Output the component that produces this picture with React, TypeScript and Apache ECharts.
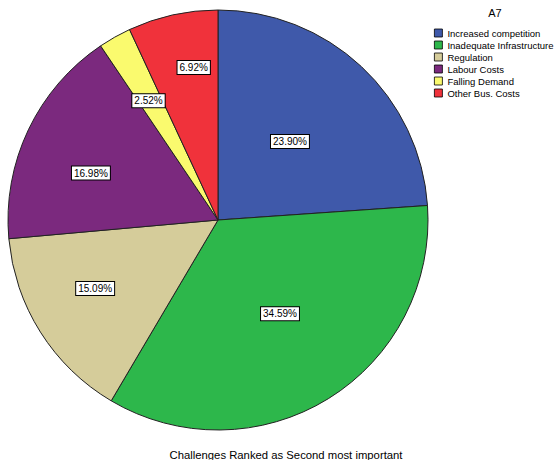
import React, { useEffect, useRef } from "react";
import * as echarts from "echarts";

const categories = [
  "Increased competition",
  "Inadequate Infrastructure",
  "Regulation",
  "Labour Costs",
  "Falling Demand",
  "Other Bus. Costs",
];
const values = [23.9, 34.59, 15.09, 16.98, 2.52, 6.92];
const colors = ["#3f59aa", "#2db74b", "#d5cc9a", "#7b297e", "#fafa6e", "#f0323b"];
const legendTitle = "A7";
const chartTitle = "Challenges Ranked as Second most important";

// label placement (layout only): distance from centre as fraction of radius,
// and angular offset in degrees from the slice's mid-angle
const labelRadiusFrac = [0.507, 0.535, 0.67, 0.645, 0.657, 0.735];
const labelAngleOffset = [-0.5, -1.8, 3.1, -5.2, -0.8, 3.4];

const CX = 218;
const CY = 220;
const R = 210;

export default function App() {
  const ref = useRef<HTMLDivElement>(null);
  useEffect(() => {
    document.body.style.margin = "0";
    const chart = echarts.init(ref.current!, null, { renderer: "svg" });
    const total = values.reduce((a, b) => a + b, 0);
    const mids: number[] = [];
    let acc = 0;
    values.forEach((v) => {
      mids.push(((acc + v / 2) / total) * Math.PI * 2);
      acc += v;
    });
    const font = "Liberation Sans, Arial";
    chart.setOption({
      animation: false,
      backgroundColor: "#ffffff",
      title: [
        {
          text: chartTitle,
          left: 281,
          top: 444,
          textAlign: "center",
          textStyle: { fontFamily: font, fontSize: 11.3, fontWeight: "normal", color: "#000" },
        },
        {
          text: legendTitle,
          left: 490,
          top: 2,
          textAlign: "center",
          textStyle: { fontFamily: font, fontSize: 11, fontWeight: "normal", color: "#000" },
        },
      ],
      legend: {
        orient: "vertical",
        left: 429,
        top: 23,
        itemWidth: 8,
        itemHeight: 8,
        itemGap: 2,
        icon: "rect",
        selectedMode: false,
        data: categories,
        itemStyle: { borderColor: "#000", borderWidth: 0.8 },
        textStyle: { fontFamily: font, fontSize: 9.5, color: "#000" },
      },
      series: [
        {
          type: "pie",
          center: [CX, CY],
          radius: [0, R],
          startAngle: 90,
          clockwise: true,
          avoidLabelOverlap: false,
          itemStyle: { borderColor: "#222", borderWidth: 1 },
          label: {
            show: true,
            position: "inside",
            formatter: (p: any) => p.value.toFixed(2) + "%",
            fontFamily: font,
            fontSize: 10,
            color: "#000",
            backgroundColor: "#fff",
            borderColor: "#000",
            borderWidth: 1,
            padding: [2, 2, 1, 2],
          },
          labelLayout: (p: any) => {
            const i = p.dataIndex;
            const r = R * labelRadiusFrac[i];
            const a = mids[i] + (labelAngleOffset[i] * Math.PI) / 180;
            return {
              x: CX + r * Math.sin(a),
              y: CY - r * Math.cos(a),
              align: "center",
              verticalAlign: "middle",
            };
          },
          labelLine: { show: false },
          emphasis: { disabled: true },
          data: categories.map((c, i) => ({ name: c, value: values[i], itemStyle: { color: colors[i] } })),
        },
      ],
    });
    return () => chart.dispose();
  }, []);
  return <div ref={ref} style={{ width: 555, height: 460 }} />;
}
